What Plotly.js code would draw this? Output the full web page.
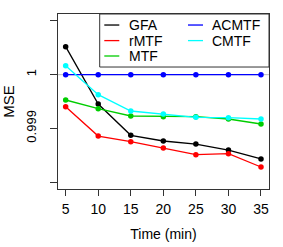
<!DOCTYPE html>
<html>
<head>
<meta charset="utf-8">
<script src="https://cdn.plot.ly/plotly-3.0.1.min.js"></script>
<style>html,body{margin:0;padding:0;background:#fff;}#chart{width:283px;height:247px;}</style>
</head>
<body>
<div id="chart"></div>
<script>
var times = [5, 10, 15, 20, 25, 30, 35];
var gfa   = [1.000522, 0.999453, 0.998870, 0.998764, 0.998708, 0.998596, 0.998429];
var rmtf  = [0.999404, 0.998857, 0.998752, 0.998634, 0.998509, 0.998528, 0.998280];
var mtf   = [0.999528, 0.999366, 0.999230, 0.999217, 0.999217, 0.999174, 0.999081];
var acmtf = [1, 1, 1, 1, 1, 1, 1];
var cmtf  = [1.000168, 0.999627, 0.999323, 0.999267, 0.999205, 0.999199, 0.999174];
var seriesNames  = ['GFA', 'rMTF', 'MTF', 'ACMTF', 'CMTF'];
var seriesColors = ['#000000', '#FF0000', '#00CD00', '#0000FF', '#00FFFF'];
var seriesValues = [gfa, rmtf, mtf, acmtf, cmtf];
var yTickVals = [0.998, 0.999, 1, 1.001];
var yTickText = ["", "0.999", "1", ""];
var xTickVals = [5, 10, 15, 20, 25, 30, 35];

var font = {family: 'Liberation Sans, Arial, sans-serif', size: 14, color: '#000'};
var fontY = {family: 'Liberation Sans, Arial, sans-serif', size: 13, color: '#000'};

var data = seriesNames.map(function (n, i) {
  return {x: times, y: seriesValues[i], name: n, type: 'scatter', mode: 'lines+markers',
    line: {color: seriesColors[i], width: 1.3}, marker: {color: seriesColors[i], size: 5.5},
    showlegend: false};
});

// Hand-built legend (R style: short line samples, two columns, tight rows)
var shapes = [
  {type: 'line', xref: 'paper', yref: 'y', x0: 0, x1: 1, y0: 1, y1: 1,
   line: {color: '#bbbbbb', width: 1}, layer: 'below'},
  {type: 'rect', xref: 'paper', yref: 'paper', x0: 0.1976, x1: 1, y0: 0.697, y1: 1,
   line: {color: '#333', width: 1}, fillcolor: '#ffffff', layer: 'above'}
];
var annotations = [];
var colX = [[0.2194, 0.2905, 0.327], [0.6161, 0.6872, 0.722]];
var rowY = [0.937, 0.848, 0.760];
var slot = [[0, 0], [0, 1], [0, 2], [1, 0], [1, 1]];
seriesNames.forEach(function (n, i) {
  var c = colX[slot[i][0]], ry = rowY[slot[i][1]];
  shapes.push({type: 'line', xref: 'paper', yref: 'paper', x0: c[0], x1: c[1], y0: ry, y1: ry,
    line: {color: seriesColors[i], width: 1.3}, layer: 'above'});
  annotations.push({xref: 'paper', yref: 'paper', x: c[2], y: ry, text: n, showarrow: false,
    xanchor: 'left', yanchor: 'middle', font: font});
});

var layout = {
  width: 283, height: 247,
  margin: {l: 58, r: 14, t: 14, b: 58},
  paper_bgcolor: '#fff', plot_bgcolor: '#fff',
  font: font,
  showlegend: false,
  xaxis: {range: [3.822, 36.23], tickvals: xTickVals, ticks: 'outside', ticklen: 6,
    tickcolor: '#333', showgrid: false, zeroline: false, showline: true, mirror: true,
    linecolor: '#333', linewidth: 1, tickfont: font, ticklabelstandoff: 1,
    title: {text: 'Time (min)', font: font, standoff: 13}},
  yaxis: {range: [0.997870, 1.001130], tickvals: yTickVals, ticktext: yTickText,
    tickangle: -90, ticks: 'outside', ticklen: 7, tickcolor: '#333',
    showgrid: false, zeroline: false, showline: true, mirror: true,
    linecolor: '#333', linewidth: 1, tickfont: fontY, ticklabelstandoff: 9,
    title: {text: 'MSE', font: {family: font.family, size: 15, color: '#000'}, standoff: 12}},
  shapes: shapes,
  annotations: annotations
};
Plotly.newPlot('chart', data, layout, {displayModeBar: false, staticPlot: true});
</script>
</body>
</html>
